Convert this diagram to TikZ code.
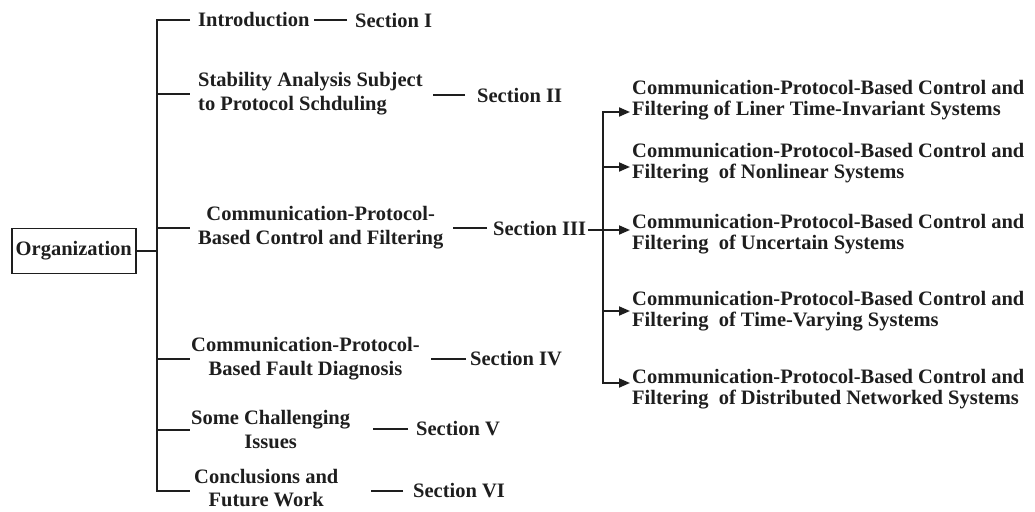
\documentclass[tikz,border=0pt]{standalone}
\usepackage{fontspec}
\setmainfont{Liberation Serif}
\usetikzlibrary{arrows.meta}
\definecolor{ink}{RGB}{30,30,30}

\tikzset{
  txt/.style={anchor=west,inner xsep=2pt,inner ysep=0pt,text=ink,
    font=\fontsize{20.5}{24}\selectfont\bfseries},
  sub/.style={txt,align=left,font=\fontsize{20.5}{21}\selectfont\bfseries},
  wire/.style={draw=ink,line width=1.8pt},
  head/.tip={Triangle[length=11pt,width=9pt]},
  arr/.style={wire,-head}
}

\begin{document}
\begin{tikzpicture}[x=1pt,y=-1pt]

        \useasboundingbox (0,0) rectangle (1035,511);

        % root box
        \node [txt,draw=ink,line width=1.6pt,inner xsep=0pt,minimum width=124pt,minimum height=45pt] (org) at (11,251) {Organization};

        % trunk and the common end of the branches
        \coordinate (trunk) at (157,250);
        \coordinate (tip) at (190,250);

        % chapters
        \node [txt] (intro) at (196,20) {Introduction};
        \node [txt,align=left] (stab) at (196,94) {Stability Analysis Subject\\to Protocol Schduling};
        \node [txt,align=center] (ctrl) at (196,228) {Communication-Protocol-\\Based Control and Filtering};
        \node [txt,align=center] (fault) at (189,359) {Communication-Protocol-\\Based Fault Diagnosis};
        \node [txt,align=center] (issue) at (189,430) {Some Challenging\\Issues};
        \node [txt,align=center,font=\fontsize{20.5}{23}\selectfont\bfseries] (concl) at (192,488) {Conclusions and\\Future Work};

        % section labels
        \node [txt] (sec1) at (353,20) {Section I};
        \node [txt] (sec2) at (475,95) {Section II};
        \node [txt] (sec3) at (491,228) {Section III};
        \node [txt] (sec4) at (468,359) {Section IV};
        \node [txt] (sec5) at (414,429) {Section V};
        \node [txt] (sec6) at (411,491) {Section VI};

        % topics of section III
        \coordinate (fork) at (603,230);
        \node [sub] (blk1) at (630,100) {Communication-Protocol-Based Control and\\Filtering of Liner Time-Invariant Systems};
        \node [sub] (blk2) at (630,163) {Communication-Protocol-Based Control and\\Filtering\ \ of Nonlinear Systems};
        \node [sub] (blk3) at (630,234) {Communication-Protocol-Based Control and\\Filtering\ \ of Uncertain Systems};
        \node [sub] (blk4) at (630,311) {Communication-Protocol-Based Control and\\Filtering\ \ of Time-Varying Systems};
        \node [sub] (blk5) at (630,389) {Communication-Protocol-Based Control and\\Filtering\ \ of Distributed Networked Systems};

        % main trunk
        \draw [wire] (org.east) -- (org.east -| trunk);
        \draw [wire] (tip |- intro.west) -- (trunk |- intro.west) -- ([yshift=-3pt]trunk |- concl.west) -- ([yshift=-3pt]tip |- concl.west);
        \draw [wire] (trunk |- stab.west) -- (tip |- stab.west);
        \draw [wire] (trunk |- ctrl.west) -- (tip |- ctrl.west);
        \draw [wire] (trunk |- fault.west) -- (tip |- fault.west);
        \draw [wire] (trunk |- issue.west) -- (tip |- issue.west);

        % short rules before the section labels
        \draw [wire] ([xshift=-6pt]sec1.west) -- ++(-33,0);
        \draw [wire] ([xshift=-10pt]sec2.west) -- ++(-32,0);
        \draw [wire] ([xshift=-4pt]sec3.west) -- ++(-34,0);
        \draw [wire] ([xshift=-2pt]sec4.west) -- ++(-35,0);
        \draw [wire] ([xshift=-6pt]sec5.west) -- ++(-35,0);
        \draw [wire] ([xshift=-8pt]sec6.west) -- ++(-32,0);

        % section III fork
        \draw [wire] (sec3.east |- fork) -- (fork);
        \draw [arr] (fork) -- (fork -| blk3.west);
        \draw [wire,head-head] ([yshift=-12pt]blk1.west) -- ([yshift=-12pt]blk1.west -| fork) -- ([yshift=6pt]blk5.west -| fork) -- ([yshift=6pt]blk5.west);
        \draw [arr] ([yshift=-4pt]blk2.west -| fork) -- ([yshift=-4pt]blk2.west);
        \draw [arr] (blk4.west -| fork) -- (blk4.west);

\end{tikzpicture}
\end{document}
